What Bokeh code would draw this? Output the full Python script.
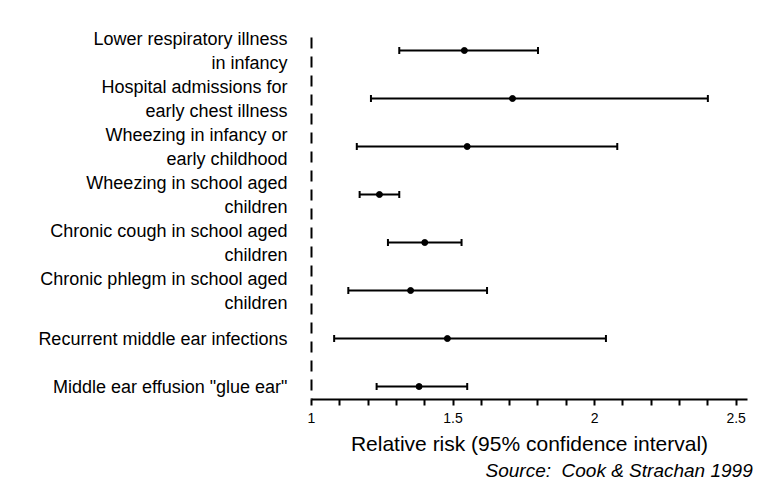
from bokeh.plotting import figure
from bokeh.models import (Range1d, FixedTicker, ColumnDataSource, Whisker,
                          TeeHead, Title)
from bokeh.embed import file_html
from bokeh.resources import INLINE

# ---- data -------------------------------------------------------------
outcomes = [
    "Lower respiratory illness\nin infancy",
    "Hospital admissions for\nearly chest illness",
    "Wheezing in infancy or\nearly childhood",
    "Wheezing in school aged\nchildren",
    "Chronic cough in school aged\nchildren",
    "Chronic phlegm in school aged\nchildren",
    "Recurrent middle ear infections",
    'Middle ear effusion "glue ear"',
]
rel_risk = [1.54, 1.71, 1.55, 1.24, 1.40, 1.35, 1.48, 1.38]
ci_low = [1.31, 1.21, 1.16, 1.17, 1.27, 1.13, 1.08, 1.23]
ci_high = [1.80, 2.40, 2.08, 1.31, 1.53, 1.62, 2.04, 1.55]
x_major_ticks = [1, 1.5, 2, 2.5]
x_minor_ticks = [1.1, 1.2, 1.3, 1.4, 1.6, 1.7, 1.8, 1.9,
                 2.1, 2.2, 2.3, 2.4]
x_title = "Relative risk (95% confidence interval)"
source_note = "Source:\u00a0 Cook & Strachan 1999"

FONT = "Liberation Sans"
idx = list(range(len(outcomes)))
src = ColumnDataSource(dict(idx=idx, rr=rel_risk, lo=ci_low, hi=ci_high))

p = figure(width=767, height=484, output_backend="svg", toolbar_location=None,
           x_range=Range1d(1, 2.54), y_range=Range1d(7.27, -0.271),
           min_border_left=311, min_border_right=20,
           min_border_top=37, min_border_bottom=85)
p.outline_line_color = None
p.xgrid.visible = False
p.ygrid.visible = False
p.background_fill_color = "white"
p.border_fill_color = "white"

# x axis
xa = p.xaxis[0]
xa.ticker = FixedTicker(ticks=x_major_ticks, minor_ticks=x_minor_ticks)
xa.axis_line_width = 2
xa.axis_line_color = "black"
xa.major_tick_line_width = 2
xa.minor_tick_line_width = 2
xa.major_tick_line_color = "black"
xa.minor_tick_line_color = "black"
xa.major_tick_in = 0
xa.major_tick_out = 6
xa.minor_tick_in = 0
xa.minor_tick_out = 6
xa.major_label_text_font = FONT
xa.major_label_text_font_size = "14px"
xa.major_label_text_color = "black"
xa.major_label_standoff = 7
xa.axis_label = x_title
xa.axis_label_text_font = FONT
xa.axis_label_text_font_size = "21px"
xa.axis_label_text_font_style = "normal"
xa.axis_label_text_color = "black"
xa.axis_label_standoff = 6

# y axis: dashed reference line at RR = 1 with category labels
ya = p.yaxis[0]
ya.ticker = FixedTicker(ticks=idx)
ya.major_label_overrides = {i: t for i, t in zip(idx, outcomes)}
ya.axis_line_dash = "11 8"
ya.axis_line_width = 2
ya.axis_line_color = "black"
ya.major_tick_line_color = None
ya.minor_tick_line_color = None
ya.major_tick_out = 0
ya.major_tick_in = 0
ya.major_label_standoff = 24
ya.major_label_text_font = FONT
ya.major_label_text_font_size = "18px"
ya.major_label_text_color = "black"

# confidence intervals and point estimates
whisk = Whisker(source=src, base="idx", lower="lo", upper="hi",
                dimension="width", line_width=2, line_color="black",
                upper_head=TeeHead(size=7, line_width=2, line_color="black"),
                lower_head=TeeHead(size=7, line_width=2, line_color="black"))
p.add_layout(whisk)
p.scatter(x="rr", y="idx", source=src, size=6, color="black")

# source note
p.add_layout(Title(text=source_note, align="left", offset=174,
                   text_font=FONT, text_font_size="19px",
                   text_font_style="italic", text_color="black",
                   standoff=0), "below")

open("out.html", "w").write(file_html(p, INLINE))
